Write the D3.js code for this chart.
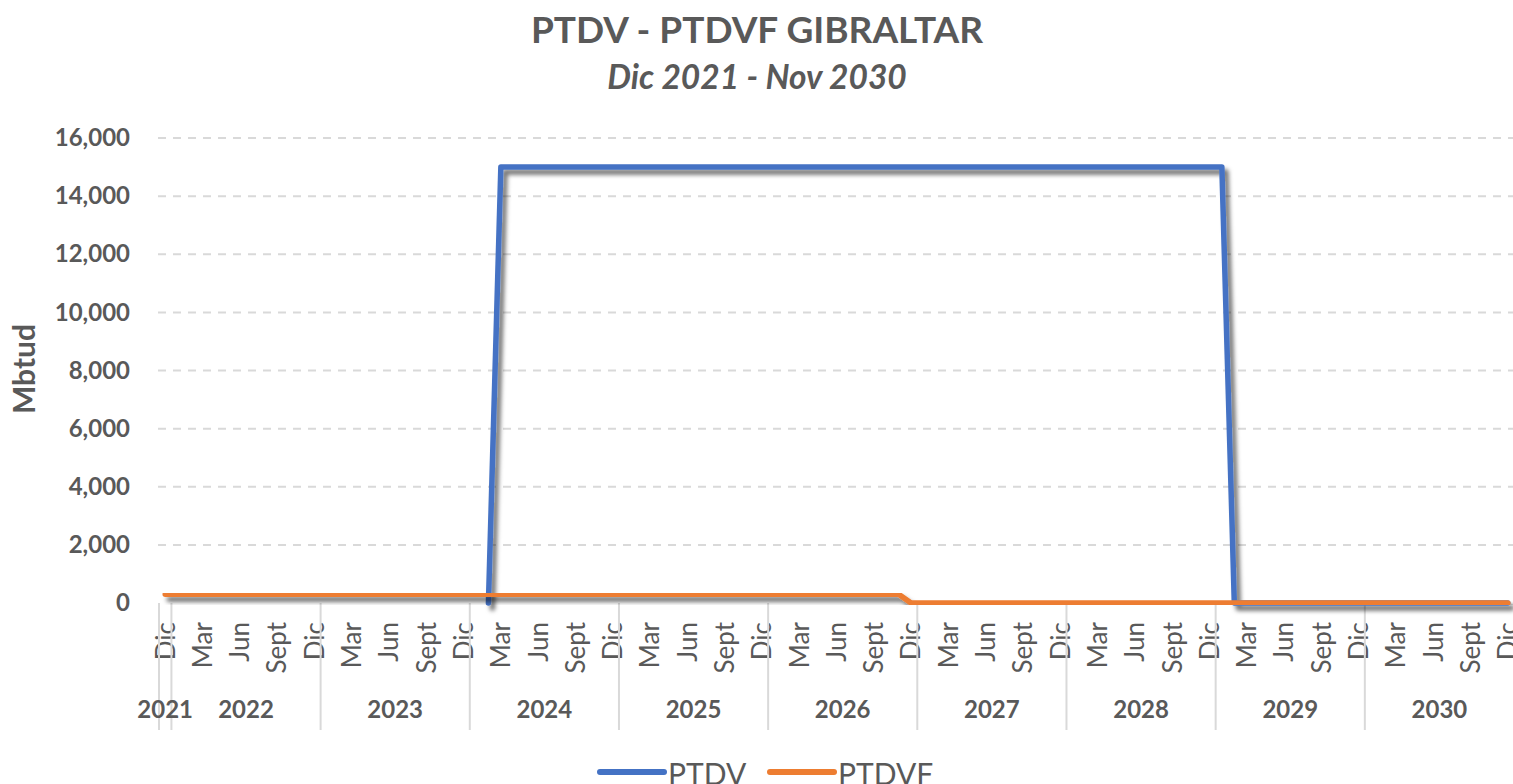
<!DOCTYPE html>
<html>
<head>
    <title>PTDV - PTDVF GIBRALTAR</title>
    <script src="https://d3js.org/d3.v7.min.js"></script>
    <style>
        body { margin: 0; background: #fff; }
        text { font-family: Lato, "Open Sans", sans-serif; fill: #595959; }
    </style>
</head>
<body>
    <svg id="chart"></svg>
    <script>
        // month labels (Spanish) and year groups of the category axis
        const monthNames = ["Ene", "Feb", "Mar", "Abr", "May", "Jun", "Jul", "Ago", "Sept", "Oct", "Nov", "Dic"];
        const years = ["2021", "2022", "2023", "2024", "2025", "2026", "2027", "2028", "2029", "2030"];
        const yearMonths = [[12], [1,2,3,4,5,6,7,8,9,10,11,12], [1,2,3,4,5,6,7,8,9,10,11,12],
            [1,2,3,4,5,6,7,8,9,10,11,12], [1,2,3,4,5,6,7,8,9,10,11,12], [1,2,3,4,5,6,7,8,9,10,11,12],
            [1,2,3,4,5,6,7,8,9,10,11,12], [1,2,3,4,5,6,7,8,9,10,11,12], [1,2,3,4,5,6,7,8,9,10,11,12],
            [1,2,3,4,5,6,7,8,9,10,11,12]];

        // values per month, Dic 2021 .. Dic 2030 (null = no data shown)
        const ptdv = [
            null,
            null, null, null, null, null, null, null, null, null, null, null, null,
            null, null, null, null, null, null, null, null, null, null, null, null,
            null, 0, 15000, 15000, 15000, 15000, 15000, 15000, 15000, 15000, 15000, 15000,
            15000, 15000, 15000, 15000, 15000, 15000, 15000, 15000, 15000, 15000, 15000, 15000,
            15000, 15000, 15000, 15000, 15000, 15000, 15000, 15000, 15000, 15000, 15000, 15000,
            15000, 15000, 15000, 15000, 15000, 15000, 15000, 15000, 15000, 15000, 15000, 15000,
            15000, 15000, 15000, 15000, 15000, 15000, 15000, 15000, 15000, 15000, 15000, 15000,
            15000, 0, 0, 0, 0, 0, 0, 0, 0, 0, 0, 0,
            0, 0, 0, 0, 0, 0, 0, 0, 0, 0, 0, 0
        ];
        const ptdvf = [
            300,
            300, 300, 300, 300, 300, 300, 300, 300, 300, 300, 300, 300,
            300, 300, 300, 300, 300, 300, 300, 300, 300, 300, 300, 300,
            300, 300, 300, 300, 300, 300, 300, 300, 300, 300, 300, 300,
            300, 300, 300, 300, 300, 300, 300, 300, 300, 300, 300, 300,
            300, 300, 300, 300, 300, 300, 300, 300, 300, 300, 300, 0,
            0, 0, 0, 0, 0, 0, 0, 0, 0, 0, 0, 0,
            0, 0, 0, 0, 0, 0, 0, 0, 0, 0, 0, 0,
            0, 0, 0, 0, 0, 0, 0, 0, 0, 0, 0, 0,
            0, 0, 0, 0, 0, 0, 0, 0, 0, 0, 0, 0
        ];
        const yTicks = [0, 2000, 4000, 6000, 8000, 10000, 12000, 14000, 16000];

        const width = 1513, height = 784;
        const plotLeft = 159, plotRight = 1514, plotTop = 138, plotBottom = 603;

        // build the category list from the year groups
        const categories = [];
        years.forEach((yr, i) => yearMonths[i].forEach(m => categories.push({ year: yr, month: m })));

        const svg = d3.select('#chart')
            .attr('width', width)
            .attr('height', height);

        const defs = svg.append('defs');
        const shadow = defs.append('filter')
            .attr('id', 'shadow')
            .attr('x', '-5%').attr('y', '-5%')
            .attr('width', '110%').attr('height', '120%');
        shadow.append('feDropShadow')
            .attr('dx', 4).attr('dy', 5)
            .attr('stdDeviation', 2.2)
            .attr('flood-color', '#000')
            .attr('flood-opacity', 0.55);

        const x = d3.scaleBand()
            .domain(d3.range(categories.length))
            .range([plotLeft, plotRight])
            .padding(0);
        const cx = i => x(i) + x.bandwidth() / 2;

        const y = d3.scaleLinear()
            .domain([0, 16000])
            .range([plotBottom, plotTop]);

        // gridlines
        svg.append('g')
            .selectAll('line')
            .data(yTicks.filter(d => d > 0))
            .join('line')
            .attr('x1', plotLeft - 1)
            .attr('x2', width)
            .attr('y1', d => y(d))
            .attr('y2', d => y(d))
            .attr('stroke', '#d9d9d9')
            .attr('stroke-width', 2)
            .attr('stroke-dasharray', '8,7');

        // y axis labels
        const yAxis = d3.axisLeft(y)
            .tickValues(yTicks)
            .tickFormat(d3.format(','))
            .tickSize(0)
            .tickPadding(0);
        const yg = svg.append('g')
            .attr('transform', 'translate(130,0)')
            .call(yAxis);
        yg.select('.domain').remove();
        yg.selectAll('text')
            .attr('font-size', 24)
            .attr('font-weight', 'bold')
            .attr('fill', '#595959')
            .style('font-family', 'Lato, sans-serif');

        // axis title
        svg.append('text')
            .attr('transform', 'translate(35,369) rotate(-90)')
            .attr('text-anchor', 'middle')
            .attr('font-size', 30)
            .attr('font-weight', 'bold')
            .text('Mbtud');

        // titles
        svg.append('text')
            .attr('x', 757)
            .attr('y', 43)
            .attr('text-anchor', 'middle')
            .attr('font-size', 37)
            .attr('font-weight', 'bold')
            .text('PTDV - PTDVF GIBRALTAR');
        svg.append('text')
            .attr('x', 757)
            .attr('y', 89)
            .attr('text-anchor', 'middle')
            .attr('font-size', 33.5)
            .attr('font-style', 'italic')
            .attr('font-weight', 'bold')
            .text('Dic 2021 - Nov 2030');

        // month labels every 3 months
        svg.append('g')
            .selectAll('text')
            .data(categories.map((c, i) => ({ c, i })).filter(d => d.i % 3 === 0))
            .join('text')
            .attr('transform', d => `translate(${cx(d.i)},622) rotate(-90)`)
            .attr('text-anchor', 'end')
            .attr('dy', '0.36em')
            .attr('font-size', 26)
            .attr('fill', '#4d4d4d')
            .text(d => monthNames[d.c.month - 1]);

        // year groups: separators and labels
        let start = 0;
        const groups = years.map((yr, i) => {
            const g = { year: yr, start: start, end: start + yearMonths[i].length };
            start = g.end;
            return g;
        });
        svg.append('g')
            .selectAll('line')
            .data(groups)
            .join('line')
            .attr('x1', d => x(d.start))
            .attr('x2', d => x(d.start))
            .attr('y1', plotBottom)
            .attr('y2', 730)
            .attr('stroke', '#d9d9d9')
            .attr('stroke-width', 2);
        svg.append('g')
            .selectAll('text')
            .data(groups)
            .join('text')
            .attr('x', d => (x(d.start) + x(d.end - 1) + x.bandwidth()) / 2)
            .attr('y', 718)
            .attr('text-anchor', 'middle')
            .attr('font-size', 24)
            .attr('font-weight', 'bold')
            .text(d => d.year);

        // series
        const line = d3.line()
            .defined(d => d !== null)
            .x((d, i) => cx(i))
            .y(d => y(d));

        svg.append('path')
            .datum(ptdv)
            .attr('d', line)
            .attr('fill', 'none')
            .attr('stroke', '#4472C4')
            .attr('stroke-width', 5.5)
            .attr('stroke-linejoin', 'round')
            .attr('stroke-linecap', 'round')
            .attr('filter', 'url(#shadow)');

        svg.append('path')
            .datum(ptdvf)
            .attr('d', line)
            .attr('fill', 'none')
            .attr('stroke', '#ED7D31')
            .attr('stroke-width', 5.5)
            .attr('stroke-linejoin', 'round')
            .attr('stroke-linecap', 'round')
            .attr('filter', 'url(#shadow)');

        // legend
        const legend = [
            { name: 'PTDV', color: '#4472C4', x: 600 },
            { name: 'PTDVF', color: '#ED7D31', x: 770 }
        ];
        const lg = svg.append('g')
            .selectAll('g')
            .data(legend)
            .join('g')
            .attr('transform', d => `translate(${d.x},772)`);
        lg.append('line')
            .attr('x1', 0).attr('x2', 64)
            .attr('stroke', d => d.color)
            .attr('stroke-width', 6)
            .attr('stroke-linecap', 'round');
        lg.append('text')
            .attr('x', 68)
            .attr('y', 13)
            .attr('font-size', 30)
            .text(d => d.name);
    </script>
</body>
</html>
